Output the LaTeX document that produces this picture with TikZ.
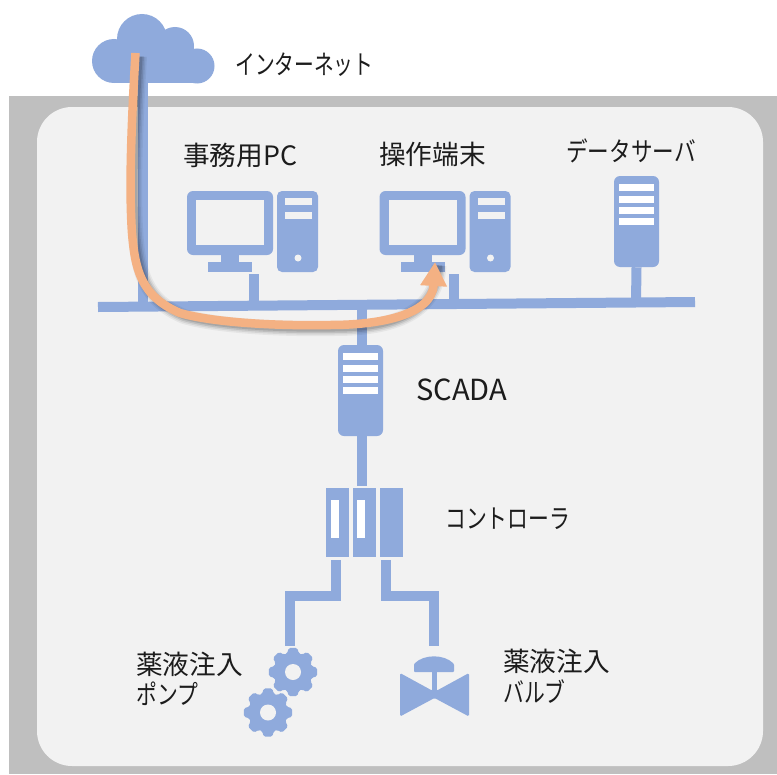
\documentclass[tikz,border=0pt]{standalone}
\usepackage{fontspec}
\setmainfont{Noto Sans CJK JP}
\newfontfamily\kn[FakeStretch=0.78]{Noto Sans CJK JP}
\newfontfamily\kna[FakeStretch=0.74]{Noto Sans CJK JP}
\newfontfamily\knb[FakeStretch=0.81]{Noto Sans CJK JP}
\usetikzlibrary{arrows.meta}
\definecolor{netblue}{HTML}{8FAADC}
\definecolor{flow}{HTML}{F4B183}
\definecolor{zone}{HTML}{F2F2F2}
\definecolor{rim}{HTML}{BFBFBF}
\definecolor{ink}{HTML}{1C1C1C}
\def\U{0.75pt}
\tikzset{
  x=0.75pt,y=-0.75pt,
  iconbox/.style={fill=netblue,draw=none,inner sep=0pt,rounded corners=#1*\U},
  iconbox/.default=5,
  hole2/.style={fill=zone,draw=none},
  link/.style={draw=netblue,line width=10*\U},
  lbl/.style={text=ink,font=\fontsize{20pt}{24pt}\selectfont,inner sep=0pt,anchor=west},
  flowline/.style={line cap=butt,line join=round},
}
% server icon: name, centre x, top y
\newcommand\servericon[3]{%
  \node[iconbox=6,minimum width=45*\U,minimum height=91*\U] (#1) at (#2,#3+45.5) {};
  \foreach \yy in {8,20,31,42}{\fill[white] (#2-17.5,#3+\yy) rectangle (#2+17.5,#3+\yy+7.3);}
}
% PC icon: name, x offset
\newcommand\pcicon[2]{%
  \node[iconbox=6,minimum width=86*\U,minimum height=64*\U] (#1mon) at (230+#2,223) {};
  \node[hole2,minimum width=68*\U,minimum height=45*\U,inner sep=0pt] (#1scr) at (230+#2,222.5) {};
  \fill[netblue] (221+#2,254) rectangle (239+#2,263);
  \fill[netblue] (208+#2,262) rectangle (252+#2,272);
  \node[iconbox=5,minimum width=41*\U,minimum height=81*\U] (#1tow) at (297.5+#2,231.5) {};
  \fill[zone] (285+#2,197.5) rectangle (312+#2,205);
  \fill[zone] (285+#2,212) rectangle (312+#2,219);
  \fill[zone] (298+#2,258) circle (3.5);
}
% gear icon: centre x, centre y
\newcommand\gearicon[2]{%
  \fill[netblue,rounded corners=1.6*\U]
    ({#1+19.5*cos(-22.5)},{#2+19.5*sin(-22.5)})
    \foreach \a in {0,45,...,315}{
      -- ({#1+19.5*cos(\a-17.5)},{#2+19.5*sin(\a-17.5)})
      -- ({#1+24.5*cos(\a-10)},{#2+24.5*sin(\a-10)})
      -- ({#1+24.5*cos(\a+10)},{#2+24.5*sin(\a+10)})
      -- ({#1+19.5*cos(\a+17.5)},{#2+19.5*sin(\a+17.5)})
    } -- cycle;
  \fill[zone] (#1,#2) circle (8);
}
\newcommand\flowpath{(flowstart) .. controls (131,130) and (129,190) .. (132,233)
   .. controls (135,268) and (140,296) .. (180,313)
   .. controls (215,323) and (280,326) .. (330,325)
   .. controls (380,325) and (432,315) .. (flowend)}
\begin{document}
\begin{tikzpicture}
\useasboundingbox (0,0) rectangle (777,774);
\fill[white] (0,0) rectangle (777,774);
\fill[rim] (9,96) rectangle (777,774);
\fill[zone,rounded corners=35*\U] (37,107) rectangle (763,766);

% named connection points
\coordinate (busL) at (98,307);
\coordinate (busR) at (695,302);
\coordinate (tapCloud) at (142.5,306.6);
\coordinate (tapPCa) at (254,306);
\coordinate (tapPCb) at (454,304.3);
\coordinate (tapData) at (636,302.5);
\coordinate (tapScada) at (362,305);
\coordinate (cloudBase) at (142.5,75);
\coordinate (pcaStem) at (254,274);
\coordinate (pcbStem) at (454,274);
\coordinate (scadaTop) at (362,346);
\coordinate (scadaBot) at (362,436);
\coordinate (ctrlTop) at (362,486);
\coordinate (ctrlL) at (336,560);
\coordinate (kneeLa) at (336,596);
\coordinate (kneeLb) at (290,596);
\coordinate (pumpTop) at (290,646);
\coordinate (ctrlR) at (386,560);
\coordinate (kneeRa) at (386,596);
\coordinate (kneeRb) at (433.5,596);
\coordinate (valveTop) at (433.5,646);
\coordinate (flowstart) at (135.5,53);
\coordinate (flowend) at (435,262);

% cloud
\node[inner sep=0pt,minimum size=0pt] (cloud) at (153,50) {};
\fill[netblue] (114,61) circle (22) (142,39) circle (25) (175,46) circle (19) (197,66) circle (17.5);
\fill[netblue] (114,55) rectangle (197,83.2);
\fill[netblue] (125,35) rectangle (175,60);

% links
\draw[link] (cloudBase) -- (tapCloud);
\draw[link] (pcaStem) -- (tapPCa);
\draw[link] (pcbStem) -- (tapPCb);
\draw[link] (tapScada) -- (scadaTop);
\draw[link] (scadaBot) -- (ctrlTop);
\draw[link,miter limit=10] (ctrlL) -- (kneeLa) -- (kneeLb) -- (pumpTop);
\draw[link,miter limit=10] (ctrlR) -- (kneeRa) -- (kneeRb) -- (valveTop);

% computers
\pcicon{pca}{0}
\pcicon{pcb}{192.5}

% servers
\servericon{data}{636.5}{176}
\servericon{scada}{360.5}{345}
\draw[link] (data.south) -- (tapData);
\draw[link] (busL) -- (busR);

% controller
\node[fill=netblue,minimum width=23*\U,minimum height=69*\U,inner sep=0pt] (ctrlA) at (337.5,522.5) {};
\node[fill=netblue,minimum width=23*\U,minimum height=69*\U,inner sep=0pt] (ctrlB) at (364.5,522.5) {};
\node[fill=netblue,minimum width=23*\U,minimum height=69*\U,inner sep=0pt] (ctrlC) at (391.5,522.5) {};
\fill[white] (330.5,500) rectangle (338.5,538);
\fill[white] (356.5,500) rectangle (364.5,538);

% pump gears
\gearicon{293}{672}
\gearicon{268}{712.5}

% valve
\fill[netblue,rounded corners=1.5*\U] (400,673) -- (432,690.5) -- (437,690.5) -- (469,673) -- (469,716.5) -- (434.5,698) -- (400,716.5) -- cycle;
\fill[netblue] (432,670) rectangle (437,692);
\fill[netblue,rounded corners=1*\U] (414,672) -- (414,664) .. controls (424,654) and (444,654) .. (454,664) -- (454,672) -- cycle;
\node[inner sep=0pt,minimum size=0pt] (valve) at (434.5,695) {};

% flow arrow with soft shadow
\begin{scope}[transform canvas={shift={(4,3.5)}}]
  \draw[black,opacity=.05,line width=15*\U,flowline] \flowpath;
  \draw[black,opacity=.07,line width=12*\U,flowline] \flowpath;
  \draw[black,opacity=.10,line width=9*\U,flowline] \flowpath;
  \draw[black,opacity=.12,line width=6*\U,flowline] \flowpath;
\end{scope}
\draw[flow,line width=8.5*\U,flowline,-{Triangle[length=18pt,width=19pt]}] \flowpath;

% labels
\node[lbl] (tInternet) at (235,65) {\kna インターネット};
\node[lbl] (tOffice) at (183,155) {事務用PC};
\node[lbl] (tOp) at (379,154) {操作端末};
\node[lbl] (tData) at (566,151) {\knb データサーバ};
\node[lbl,font=\fontsize{21.8pt}{24pt}\selectfont] (tScada) at (416,390) {SCADA};
\node[lbl] (tCtrl) at (445,519) {\kn コントローラ};
\node[lbl] (tPumpa) at (136,664) {薬液注入};
\node[lbl] (tPumpb) at (136,694) {\kn ポンプ};
\node[lbl] (tValvea) at (503,661) {薬液注入};
\node[lbl] (tValveb) at (503,692) {\kn バルブ};
\end{tikzpicture}
\end{document}
